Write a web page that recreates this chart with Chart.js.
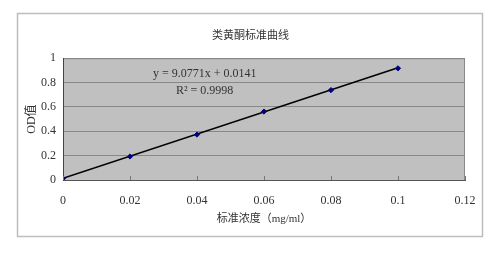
<!DOCTYPE html>
<html>
<head>
<meta charset="utf-8">
<script src="https://cdn.jsdelivr.net/npm/chart.js@4/dist/chart.umd.min.js"></script>
<style>
  html, body { margin: 0; padding: 0; background: #fff; }
  #wrap { width: 501px; height: 254px; }
</style>
</head>
<body>
<div id="wrap"><canvas id="c" width="501" height="254"></canvas></div>
<script>
const concentrations = [0, 0.02, 0.04, 0.06, 0.08, 0.1];
const odValues = [0.012, 0.193, 0.373, 0.562, 0.738, 0.917];
const trendX = [0, 0.1];
const trendY = [0.0141, 0.9218];
const xTickLabels = ["0", "0.02", "0.04", "0.06", "0.08", "0.1", "0.12"];
const yTickLabels = ["0", "0.2", "0.4", "0.6", "0.8", "1"];
const equationLines = ["y = 9.0771x + 0.0141", "R² = 0.9998"];

const SERIF = '"Liberation Serif", "Noto Sans CJK SC", serif';

const frame = {
  id: "frame",
  beforeDraw(chart) {
    const { ctx, chartArea: a } = chart;
    ctx.save();
    ctx.fillStyle = "#fff";
    ctx.fillRect(0, 0, chart.width, chart.height);
    ctx.strokeStyle = "#bdbdbd";
    ctx.lineWidth = 1.5;
    ctx.strokeRect(17.5, 13.5, 465, 223);
    ctx.fillStyle = "#c0c0c0";
    ctx.fillRect(a.left, a.top, a.right - a.left, a.bottom - a.top);
    ctx.strokeStyle = "#888";
    ctx.lineWidth = 1;
    ctx.strokeRect(a.left + 0.5, a.top + 0.5, a.right - a.left - 1, a.bottom - a.top);
    ctx.restore();
  },
  afterDraw(chart) {
    const { ctx, chartArea: a, scales } = chart;
    ctx.save();
    // inside tick marks on the x axis
    ctx.strokeStyle = "#777";
    ctx.lineWidth = 1;
    scales.x.ticks.forEach((t) => {
      const px = Math.round(scales.x.getPixelForValue(t.value)) + 0.5;
      ctx.beginPath();
      ctx.moveTo(px, a.bottom);
      ctx.lineTo(px, a.bottom - 4);
      ctx.stroke();
    });
    ctx.fillStyle = "#333";
    ctx.font = "12px " + SERIF;
    ctx.textBaseline = "middle";
    ctx.fillText(equationLines[0], 153, 74);
    ctx.fillText(equationLines[1], 176, 91);
    ctx.restore();
  },
};

new Chart(document.getElementById("c"), {
  data: {
    datasets: [
      {
        type: "scatter",
        label: "OD",
        data: concentrations.map((x, i) => ({ x, y: odValues[i] })),
        pointStyle: "rectRot",
        pointRadius: 2.6,
        backgroundColor: "#000080",
        borderColor: "#000080",
        borderWidth: 1,
      },
      {
        type: "line",
        label: "trend",
        data: trendX.map((x, i) => ({ x, y: trendY[i] })),
        borderColor: "#000",
        borderWidth: 1.6,
        pointRadius: 0,
        fill: false,
      },
    ],
  },
  options: {
    responsive: false,
    animation: false,
    layout: { padding: { left: 23, right: 23, top: 0, bottom: 26 } },
    plugins: {
      legend: { display: false },
      tooltip: { enabled: false },
      title: {
        display: true,
        text: "类黄酮标准曲线",
        color: "#333",
        font: { family: SERIF, size: 11, weight: "normal" },
        padding: { top: 30, bottom: 15 },
      },
    },
    scales: {
      x: {
        type: "linear",
        min: 0,
        max: 0.12,
        ticks: {
          stepSize: 0.02,
          padding: 6,
          color: "#333",
          font: { family: SERIF, size: 12 },
          callback: (v, i) => xTickLabels[i],
        },
        grid: { display: false },
        border: { display: true, color: "#555", width: 1 },
        title: {
          display: true,
          text: "标准浓度（mg/ml）",
          color: "#333",
          font: { family: SERIF, size: 11 },
          padding: { top: 0, bottom: 2 },
        },
        afterFit(scale) { scale.height = 48; },
      },
      y: {
        type: "linear",
        min: 0,
        max: 1,
        ticks: {
          stepSize: 0.2,
          padding: 7,
          color: "#333",
          font: { family: SERIF, size: 12 },
          callback: (v, i) => yTickLabels[i],
        },
        grid: { color: "#888", lineWidth: 1, drawTicks: false },
        border: { display: true, color: "#444", width: 1 },
        title: {
          display: true,
          text: "OD值",
          color: "#333",
          font: { family: SERIF, size: 12 },
          padding: { top: 2, bottom: 0 },
        },
        afterFit(scale) { scale.width = 40; },
      },
      pad: {
        type: "linear",
        position: "right",
        ticks: { display: false },
        grid: { display: false },
        border: { display: false },
        afterFit(scale) { scale.width = 13; },
      },
    },
  },
  plugins: [frame],
});
</script>
</body>
</html>
